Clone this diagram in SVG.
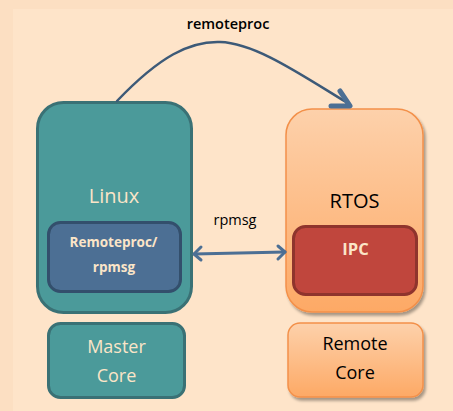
<svg xmlns="http://www.w3.org/2000/svg" width="453" height="411" viewBox="0 0 453 411">
<defs>
<linearGradient id="orng" x1="0" y1="0" x2="0" y2="1">
<stop offset="0" stop-color="#fdd1ab"/>
<stop offset="1" stop-color="#fda965"/>
</linearGradient>
<filter id="shadow" x="-10%" y="-10%" width="130%" height="130%">
<feGaussianBlur in="SourceAlpha" stdDeviation="1.5"/>
<feOffset dx="2" dy="3" result="b"/>
<feComponentTransfer><feFuncA type="linear" slope="0.35"/></feComponentTransfer>
<feMerge><feMergeNode/><feMergeNode in="SourceGraphic"/></feMerge>
</filter>
</defs>
<style>
.teal{fill:#4b9a9a;stroke:#3a7175;stroke-width:3}
.blue{fill:#4c6f94;stroke:#334f6c;stroke-width:3}
.orange{fill:url(#orng);stroke:#f39049;stroke-width:1.5}
.red{fill:#c0463d;stroke:#8f342d;stroke-width:3}
text{font-family:"Open Sans","Noto Sans","Liberation Sans",sans-serif;text-anchor:middle}
.light{fill:#fbe5c8}
.dark{fill:#000}
.conn{fill:none;stroke-linecap:round;stroke-linejoin:round}
</style>
<rect x="0" y="0" width="453" height="411" fill="#fcdfc2"/>
<rect x="13" y="9" width="440" height="402" fill="#fee4c9"/>

<g id="linux">
<rect class="teal" x="37.5" y="102.5" width="154" height="210" rx="26"/>
<text class="light" x="114" y="203" font-size="20">Linux</text>
</g>
<g id="remoteproc-rpmsg">
<rect class="blue" x="48.5" y="222.5" width="132" height="69" rx="12"/>
<text class="light" x="113.5" y="247" font-size="13.5" font-weight="bold">Remoteproc/</text>
<text class="light" x="114" y="272" font-size="13.5" font-weight="bold">rpmsg</text>
</g>
<g id="rtos" filter="url(#shadow)">
<rect class="orange" x="286" y="109" width="137" height="203" rx="26"/>
</g>
<g id="rtos-label">
<text class="dark" x="354.5" y="208" font-size="20">RTOS</text>
</g>
<g id="ipc">
<rect class="red" x="293.5" y="226.5" width="123" height="68" rx="12"/>
<text class="light" x="355.5" y="255" font-size="16.5" font-weight="bold">IPC</text>
</g>
<g id="master-core">
<rect class="teal" x="48.5" y="323.5" width="136" height="74" rx="12"/>
<text class="light" x="116.5" y="353" font-size="18">Master</text>
<text class="light" x="116.5" y="382" font-size="18">Core</text>
</g>
<g id="remote-core" filter="url(#shadow)">
<rect class="orange" x="288" y="323" width="135" height="74" rx="12"/>
</g>
<g id="remote-core-label">
<text class="dark" x="355" y="350" font-size="18">Remote</text>
<text class="dark" x="355" y="379" font-size="18">Core</text>
</g>

<g id="connectors">
<path class="conn" d="M117,101 C160,56 190,41 220,42 C255,43 300,74 346,102" stroke="#3d5a78" stroke-width="2.5"/>
<path class="conn" d="M340,91 L350,106 L331,106" stroke="#4c6f94" stroke-width="5"/>
<path class="conn" d="M194,254 L285,252" stroke="#4c6f94" stroke-width="3"/>
<path class="conn" d="M201,247 L194,254 L201,260" stroke="#4c6f94" stroke-width="3"/>
<path class="conn" d="M278,246 L285,252 L278,259" stroke="#4c6f94" stroke-width="3"/>
<text class="dark" x="228" y="29" font-size="14.5" font-weight="600">remoteproc</text>
<text class="dark" x="235" y="225" font-size="14.5">rpmsg</text>
</g>
</svg>
